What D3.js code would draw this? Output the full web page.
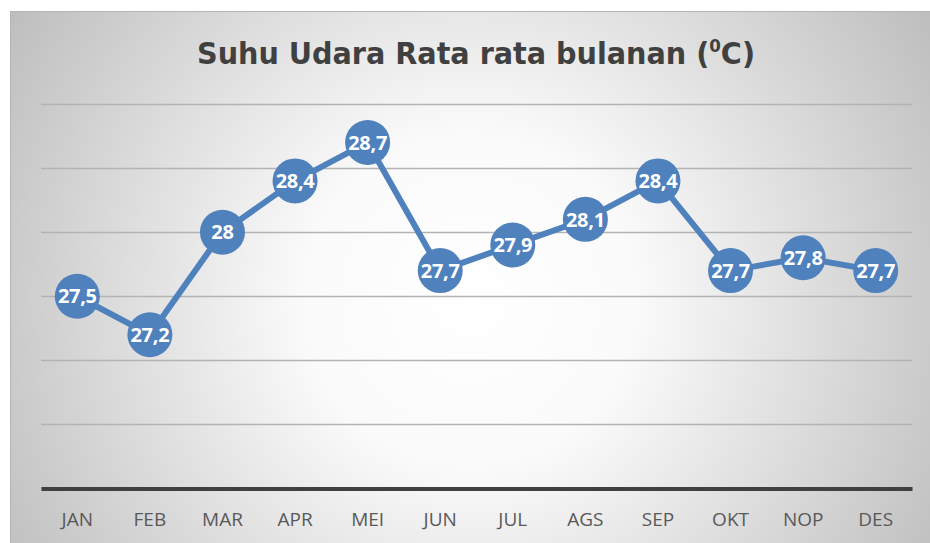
<!DOCTYPE html>
<html>
<head>
<meta charset="utf-8">
<script src="https://cdn.jsdelivr.net/npm/d3@7"></script>
<style>
  body { margin: 0; background: #fff; }
</style>
</head>
<body>
<div id="chart"></div>
<script>
const months = ['JAN', 'FEB', 'MAR', 'APR', 'MEI', 'JUN', 'JUL', 'AGS', 'SEP', 'OKT', 'NOP', 'DES'];
const temps = [27.5, 27.2, 28, 28.4, 28.7, 27.7, 27.9, 28.1, 28.4, 27.7, 27.8, 27.7];
const gridTicks = [26, 26.5, 27, 27.5, 28, 28.5, 29];
const title = 'Suhu Udara Rata rata bulanan (';

const width = 930;
const height = 543;
const margin = { top: 104, bottom: 54, left: 41, right: 18 };

const svg = d3.select('#chart')
  .append('svg')
  .attr('width', width)
  .attr('height', height);

// radial background like the excel chart area
const grad = svg.append('defs').append('radialGradient')
  .attr('id', 'bg')
  .attr('gradientUnits', 'userSpaceOnUse')
  .attr('cx', 470).attr('cy', 300).attr('r', 560);
grad.append('stop').attr('offset', '0%').attr('stop-color', '#ffffff');
grad.append('stop').attr('offset', '30%').attr('stop-color', '#fafafa');
grad.append('stop').attr('offset', '100%').attr('stop-color', '#bbbbbb');

svg.append('rect')
  .attr('x', 10.5).attr('y', 11.5)
  .attr('width', width).attr('height', height)
  .attr('fill', 'url(#bg)')
  .attr('stroke', '#b5b5b5')
  .attr('stroke-width', 1);

const x = d3.scaleBand()
  .domain(months)
  .range([margin.left, width - margin.right]);

const y = d3.scaleLinear()
  .domain([26, 29])
  .range([height - margin.bottom - 0.5, margin.top]);

// gridlines
svg.append('g')
  .selectAll('line')
  .data(gridTicks.slice(1))
  .join('line')
    .attr('x1', margin.left)
    .attr('x2', width - margin.right)
    .attr('y1', d => Math.round(y(d)) + 0.5)
    .attr('y2', d => Math.round(y(d)) + 0.5)
    .attr('stroke', '#b3b3b3')
    .attr('stroke-width', 1.5);

// category axis
const xAxis = g => g
  .attr('transform', `translate(0,${y(26)})`)
  .call(d3.axisBottom(x).tickSize(0).tickPadding(24))
  .call(g => g.select('.domain').attr('stroke', '#404040').attr('stroke-width', 4))
  .call(g => g.selectAll('text')
    .attr('fill', '#595959')
    .attr('font-family', 'Open Sans, sans-serif')
    .attr('font-size', '19px'));

svg.append('g').call(xAxis);

const cx = (d, i) => x(months[i]) + x.bandwidth() / 2;

const line = d3.line()
  .x(cx)
  .y(d => y(d));

svg.append('path')
  .datum(temps)
  .attr('fill', 'none')
  .attr('stroke', '#4f81bd')
  .attr('stroke-width', 6)
  .attr('stroke-linejoin', 'round')
  .attr('d', line);

svg.append('g')
  .selectAll('circle')
  .data(temps)
  .join('circle')
    .attr('cx', cx)
    .attr('cy', d => y(d))
    .attr('r', 22.5)
    .attr('fill', '#4f81bd');

svg.append('g')
  .selectAll('text')
  .data(temps)
  .join('text')
    .attr('x', cx)
    .attr('y', d => y(d))
    .attr('dy', '0.36em')
    .attr('text-anchor', 'middle')
    .attr('fill', '#fff')
    .attr('font-family', 'Open Sans, sans-serif')
    .attr('font-weight', 'bold')
    .attr('font-size', '20px')
    .attr('letter-spacing', '-0.3px')
    .text(d => String(d).replace('.', ','));

// title
const t = svg.append('text')
  .attr('x', 476)
  .attr('y', 64)
  .attr('text-anchor', 'middle')
  .attr('fill', '#404040')
  .attr('font-family', 'DejaVu Sans Condensed, DejaVu Sans, sans-serif')
  .attr('font-stretch', 'condensed')
  .attr('font-weight', 'bold')
  .attr('font-size', '31px')
  .attr('textLength', 558)
  .attr('lengthAdjust', 'spacingAndGlyphs');
t.append('tspan').text(title);
t.append('tspan').attr('font-size', '18px').attr('dy', -12).text('0');
t.append('tspan').attr('dy', 12).text('C)');
</script>
</body>
</html>
